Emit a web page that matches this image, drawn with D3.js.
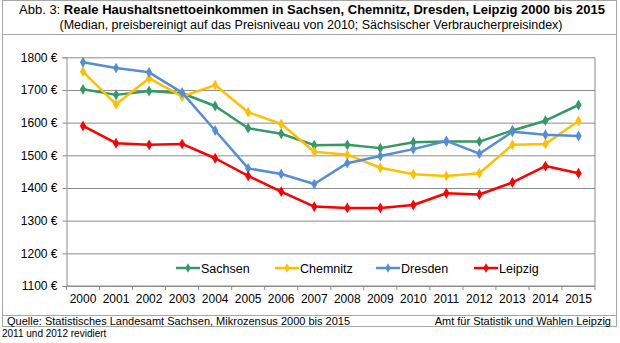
<!DOCTYPE html>
<html>
<head>
<meta charset="utf-8">
<script src="https://cdn.jsdelivr.net/npm/d3@7"></script>
<style>
  body { margin: 0; background: #fff; }
  svg { font-family: "Liberation Sans", Arial, sans-serif; }
</style>
</head>
<body>
<div id="chart"></div>
<script>
// data
const years = ['2000','2001','2002','2003','2004','2005','2006','2007','2008','2009','2010','2011','2012','2013','2014','2015'];
const sachsen  = [1702, 1685, 1697, 1690, 1651, 1583, 1566, 1531, 1532, 1522, 1540, 1542, 1542, 1576, 1606, 1654];
const chemnitz = [1756, 1656, 1736, 1680, 1715, 1632, 1596, 1511, 1502, 1462, 1442, 1437, 1445, 1532, 1535, 1605];
const dresden  = [1785, 1767, 1754, 1692, 1576, 1460, 1443, 1412, 1476, 1498, 1519, 1544, 1505, 1572, 1563, 1559];
const leipzig  = [1590, 1537, 1532, 1535, 1491, 1437, 1389, 1343, 1339, 1339, 1348, 1384, 1380, 1417, 1467, 1445];
const yTicks = [1100, 1200, 1300, 1400, 1500, 1600, 1700, 1800];

const seriesNames = ['Sachsen', 'Chemnitz', 'Dresden', 'Leipzig'];
const seriesValues = [sachsen, chemnitz, dresden, leipzig];
const seriesColors = ['#339966', '#FFC000', '#558ED5', '#FF0000'];

const W = 620, H = 343;
const svg = d3.select('#chart').append('svg')
  .attr('width', W).attr('height', H);

// frames
const frame = svg.append('g').attr('fill', 'none').attr('stroke', '#a6a6a6').attr('stroke-width', 1);
frame.append('rect').attr('x', 2.5).attr('y', 0.5).attr('width', 614).attr('height', 326);
frame.append('line').attr('x1', 2.5).attr('x2', 616.5).attr('y1', 34.5).attr('y2', 34.5);
frame.append('line').attr('x1', 2.5).attr('x2', 616.5).attr('y1', 315.5).attr('y2', 315.5);

// title
const t1 = svg.append('text').attr('x', 312).attr('y', 14).attr('text-anchor', 'middle')
  .attr('font-size', 13).attr('fill', '#000');
t1.append('tspan').text('Abb. 3: ');
t1.append('tspan').attr('font-weight', 'bold')
  .text('Reale Haushaltsnettoeinkommen in Sachsen, Chemnitz, Dresden, Leipzig 2000 bis 2015');
svg.append('text').attr('x', 311).attr('y', 29).attr('text-anchor', 'middle')
  .attr('font-size', 12.5)
  .text('(Median, preisbereinigt auf das Preisniveau von 2010; Sächsischer Verbraucherpreisindex)');

// plot area
const plot = { left: 66.5, right: 595, top: 57.3, bottom: 286 };

const x = d3.scalePoint()
  .domain(years)
  .range([plot.left, plot.right])
  .padding(0.5);

const xBand = d3.scaleBand()
  .domain(years)
  .range([plot.left, plot.right]);

const y = d3.scaleLinear()
  .domain([1100, 1800])
  .range([plot.bottom, plot.top]);

// gridlines
svg.append('g')
  .attr('transform', `translate(${plot.left},0)`)
  .call(d3.axisLeft(y).tickValues(yTicks).tickSize(-(plot.right - plot.left)).tickFormat(''))
  .call(g => g.select('.domain').remove())
  .call(g => g.selectAll('line').attr('stroke', '#8c8c8c'));

// y axis
svg.append('g')
  .attr('transform', `translate(${plot.left},0)`)
  .call(d3.axisLeft(y).tickValues(yTicks).tickSize(4).tickPadding(5).tickFormat(d => d + ' €'))
  .call(g => g.select('.domain').attr('stroke', '#8c8c8c'))
  .call(g => g.selectAll('line').attr('stroke', '#8c8c8c'))
  .call(g => g.selectAll('text').attr('font-size', 12).attr('fill', '#000')
    .attr('font-family', '"Liberation Sans", Arial, sans-serif'));

// right border
svg.append('line')
  .attr('x1', plot.right).attr('x2', plot.right)
  .attr('y1', plot.top).attr('y2', plot.bottom)
  .attr('stroke', '#8c8c8c');

// x axis: ticks between categories
const xAxis = svg.append('g').attr('transform', `translate(0,${plot.bottom})`);
xAxis.append('line')
  .attr('x1', plot.left).attr('x2', plot.right)
  .attr('stroke', '#8c8c8c');
xAxis.selectAll('line.tick')
  .data(years.concat(['end']))
  .join('line')
  .attr('class', 'tick')
  .attr('x1', d => d === 'end' ? plot.right : xBand(d))
  .attr('x2', d => d === 'end' ? plot.right : xBand(d))
  .attr('y1', 0).attr('y2', 4)
  .attr('stroke', '#8c8c8c');
xAxis.selectAll('text')
  .data(years)
  .join('text')
  .attr('x', d => x(d))
  .attr('y', 17)
  .attr('text-anchor', 'middle')
  .attr('font-size', 12)
  .text(d => d);

// lines and markers
const line = d3.line()
  .x((d, i) => x(years[i]))
  .y(d => y(d));

const diamond = d3.symbol().type(d3.symbolDiamond).size(34);

seriesValues.forEach((vals, s) => {
  const g = svg.append('g');
  g.append('path')
    .datum(vals)
    .attr('d', line)
    .attr('fill', 'none')
    .attr('stroke', seriesColors[s])
    .attr('stroke-width', 2.5)
    .attr('stroke-linejoin', 'round');
  g.selectAll('path.m')
    .data(vals)
    .join('path')
    .attr('class', 'm')
    .attr('d', diamond)
    .attr('transform', (d, i) => `translate(${x(years[i])},${y(d)})`)
    .attr('fill', seriesColors[s]);
});

// legend
const legendX = [176, 275, 376, 474];
const legY = 268;
seriesNames.forEach((name, s) => {
  const g = svg.append('g').attr('transform', `translate(${legendX[s]},${legY})`);
  g.append('line').attr('x1', 0).attr('x2', 24).attr('stroke', seriesColors[s]).attr('stroke-width', 2.5);
  g.append('path').attr('d', d3.symbol().type(d3.symbolDiamond).size(26)).attr('transform', 'translate(12,0)')
    .attr('fill', seriesColors[s]);
  g.append('text').attr('x', 25).attr('y', 4.5).attr('font-size', 12.5).text(name);
});

// footer
svg.append('text').attr('x', 7).attr('y', 325).attr('font-size', 11).text('Quelle: Statistisches Landesamt Sachsen, Mikrozensus 2000 bis 2015');
svg.append('text').attr('x', 611).attr('y', 325).attr('text-anchor', 'end').attr('font-size', 11).text('Amt für Statistik und Wahlen Leipzig');
svg.append('text').attr('x', 2).attr('y', 337).attr('font-size', 10).text('2011 und 2012 revidiert');
</script>
</body>
</html>
